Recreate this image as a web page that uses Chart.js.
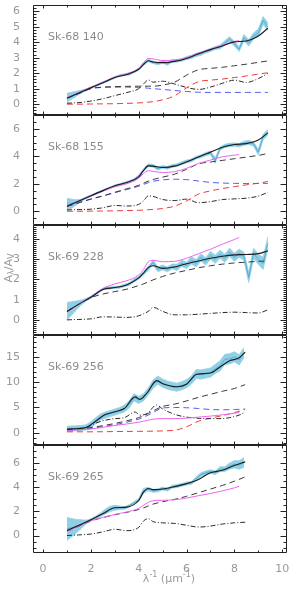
<!DOCTYPE html>
<html><head><meta charset="utf-8">
<script src="https://cdn.jsdelivr.net/npm/chart.js@4"></script>
<style>
html,body{margin:0;padding:0;background:#fff;}
body{width:295px;height:591px;position:relative;overflow:hidden;}
canvas{position:absolute;left:0;top:0;}
</style>
</head><body>
<canvas id="c0" width="295" height="591"></canvas>
<canvas id="c1" width="295" height="591"></canvas>
<canvas id="c2" width="295" height="591"></canvas>
<canvas id="c3" width="295" height="591"></canvas>
<canvas id="c4" width="295" height="591"></canvas>
<script>
// ---------- data ----------
const NAMES = ['Sk-68 140', 'Sk-68 155', 'Sk-69 228', 'Sk-69 256', 'Sk-69 265'];
const X_TICKS = [0, 2, 4, 6, 8, 10];
const P1_YT = [0, 1, 2, 3, 4, 5, 6];
const P2_YT = [0, 2, 4, 6];
const P3_YT = [0, 1, 2, 3, 4];
const P4_YT = [0, 5, 10, 15];
const P5_YT = [0, 2, 4, 6];

const G = [1.0,1.5,2.0,2.5,3.0,3.5,4.0,4.2,4.4,4.6,5.0,5.5,6.0,6.5,7.0,7.5,8.0,8.5,9.0,9.4];
const X_SHORT = [1.0,1.5,2.0,2.5,3.0,3.5,4.0,4.2,4.4,4.6,5.0,5.5,6.0,6.5,7.0,7.5,8.0,8.45];
const MAG_X = [1.0,1.5,2.0,2.5,3.0,3.5,4.0,4.2,4.4,4.6,5.0,5.5,6.0,6.5,7.0,7.5,8.0,8.2];
const OBS_X = [1.0,1.2,1.4,1.6,1.8,2.0,2.2,2.4,2.6,2.8,3.0,3.2,3.4,3.6,3.8,4.0,4.2,4.4,4.6,4.8,5.0,5.2,5.4,5.6,5.8,6.0,6.2,6.4,6.6,6.8,7.0,7.2,7.4,7.6,7.8,8.0,8.2,8.4,8.6,8.8,9.0,9.2,9.4];
const OBS_X_SHORT = [1.0,1.2,1.4,1.6,1.8,2.0,2.2,2.4,2.6,2.8,3.0,3.2,3.4,3.6,3.8,4.0,4.2,4.4,4.6,4.8,5.0,5.2,5.4,5.6,5.8,6.0,6.2,6.4,6.6,6.8,7.0,7.2,7.4,7.6,7.8,8.0,8.2,8.4];

// Sk-68 140
const P1_OBS = [0.42,0.55,0.68,0.8,0.93,1.06,1.18,1.32,1.45,1.58,1.72,1.85,1.9,1.92,2.08,2.25,2.6,2.82,2.7,2.62,2.72,2.6,2.78,2.8,2.85,2.98,3.05,3.18,3.25,3.4,3.5,3.62,3.7,3.95,4.2,3.9,3.55,4.3,3.95,4.4,4.6,5.4,5.0];
const P1_ERR = [0.28,0.22,0.16,0.1,0.06,0.05,0.05,0.05,0.05,0.05,0.05,0.05,0.05,0.05,0.06,0.07,0.08,0.08,0.08,0.08,0.08,0.08,0.08,0.08,0.08,0.1,0.1,0.1,0.1,0.1,0.1,0.1,0.12,0.15,0.15,0.15,0.15,0.2,0.2,0.2,0.25,0.25,0.25];
const P1_FIT = [0.38,0.72,1.06,1.38,1.72,1.92,2.25,2.55,2.8,2.72,2.68,2.76,2.95,3.25,3.52,3.75,4.02,4.08,4.4,4.9];
const P1_MAG = [0.4,0.76,1.1,1.42,1.76,1.98,2.3,2.68,2.95,2.92,2.82,2.85,3.0,3.3,3.55,3.8,4.05,4.1];
const P1_TOT = [0.39,0.7,1.01,1.1,1.13,1.15,1.16,1.16,1.16,1.16,1.23,1.42,1.87,2.22,2.31,2.38,2.48,2.58,2.7,2.79];
const P1_BLUE = [0.39,0.7,1.0,1.08,1.1,1.1,1.08,1.06,1.03,1.0,0.95,0.88,0.82,0.77,0.76,0.76,0.76,0.76,0.76,0.76];
const P1_RED = [0.0,0.0,0.01,0.02,0.03,0.05,0.08,0.1,0.13,0.16,0.28,0.54,1.05,1.45,1.55,1.62,1.72,1.82,1.94,2.03];
const P1_DD = [0.06,0.1,0.2,0.35,0.55,0.75,1.0,1.3,1.56,1.42,1.48,1.3,1.08,0.95,1.1,1.35,1.55,1.4,1.65,1.98];

// Sk-68 155
const P2_OBS = [0.5,0.55,0.65,0.8,0.98,1.13,1.28,1.43,1.58,1.72,1.85,1.95,2.05,2.15,2.3,2.55,3.0,3.35,3.3,3.1,3.22,3.15,3.3,3.35,3.5,3.62,3.7,3.9,4.0,4.15,4.25,3.7,4.55,4.75,4.82,4.85,4.8,4.95,5.0,4.9,4.3,5.4,5.75];
const P2_ERR = [0.45,0.32,0.18,0.08,0.06,0.05,0.05,0.05,0.05,0.05,0.06,0.06,0.06,0.06,0.07,0.08,0.1,0.1,0.1,0.1,0.1,0.1,0.1,0.1,0.1,0.1,0.1,0.1,0.1,0.12,0.12,0.2,0.12,0.12,0.12,0.12,0.12,0.15,0.15,0.15,0.2,0.2,0.2];
const P2_FIT = [0.36,0.75,1.13,1.5,1.85,2.09,2.5,2.95,3.3,3.28,3.18,3.28,3.58,3.95,4.3,4.65,4.85,4.92,5.18,5.7];
const P2_MAG = [0.36,0.74,1.1,1.45,1.78,2.0,2.4,2.75,2.95,2.9,2.82,2.88,3.12,3.48,3.72,3.96,4.08,4.12];
const P2_TOT = [0.36,0.62,0.89,1.12,1.38,1.63,1.89,2.04,2.19,2.31,2.48,2.7,3.05,3.45,3.58,3.7,3.82,3.94,4.06,4.2];
const P2_BLUE = [0.36,0.62,0.88,1.1,1.35,1.58,1.82,1.95,2.08,2.18,2.28,2.33,2.3,2.2,2.1,2.05,2.03,2.02,2.02,2.03];
const P2_RED = [0,0,0.01,0.02,0.03,0.05,0.07,0.09,0.11,0.13,0.2,0.37,0.75,1.25,1.48,1.65,1.79,1.92,2.04,2.17];
const P2_DD = [0.1,0.12,0.15,0.25,0.42,0.38,0.5,0.75,1.12,1.08,0.85,0.78,0.88,0.62,0.7,0.85,0.9,0.95,1.1,1.38];

// Sk-69 228
const P3_OBS = [0.43,0.57,0.72,0.86,1.0,1.12,1.28,1.45,1.58,1.58,1.6,1.62,1.7,1.78,1.95,2.08,2.3,2.55,2.85,2.5,2.6,2.5,2.65,2.6,2.8,2.7,2.95,2.8,3.1,2.9,3.2,3.0,3.25,3.05,3.35,3.1,3.3,3.15,2.1,3.3,3.0,2.8,3.8];
const P3_ERR = [0.43,0.33,0.22,0.12,0.06,0.05,0.05,0.05,0.05,0.05,0.05,0.05,0.06,0.06,0.07,0.07,0.08,0.1,0.12,0.12,0.12,0.12,0.12,0.15,0.15,0.15,0.18,0.18,0.18,0.18,0.2,0.2,0.2,0.2,0.2,0.2,0.2,0.2,0.25,0.25,0.25,0.3,0.3];
const P3_FIT = [0.41,0.78,1.12,1.5,1.6,1.73,2.08,2.32,2.6,2.68,2.55,2.62,2.78,2.92,3.05,3.15,3.22,3.24,3.28,3.42];
const P3_MAG = [0.41,0.78,1.15,1.55,1.78,1.94,2.22,2.5,2.88,2.95,2.88,2.9,3.05,3.28,3.5,3.75,3.98,4.08];
const P3_TOT = [0.41,0.78,1.1,1.28,1.4,1.52,1.7,1.78,1.88,1.98,2.15,2.32,2.45,2.58,2.68,2.76,2.82,2.86,2.9,2.92];
const P3_DD = [0.0,0.02,0.05,0.15,0.14,0.12,0.2,0.3,0.42,0.62,0.42,0.25,0.25,0.28,0.32,0.36,0.38,0.36,0.34,0.5];

// Sk-69 256
const P4_OBS = [0.8,0.85,0.9,0.95,1.1,1.6,2.4,3.1,3.5,3.8,4.1,4.4,4.8,5.6,7.0,6.5,7.0,8.2,9.6,10.4,9.8,9.4,9.2,9.0,9.3,9.7,10.4,11.6,11.5,11.7,11.9,12.6,13.2,14.5,14.6,15.0,14.4,15.8];
const P4_ERR = [0.5,0.5,0.5,0.5,0.5,0.6,0.6,0.6,0.6,0.6,0.6,0.6,0.7,0.7,0.7,0.7,0.7,0.7,0.8,0.8,0.8,0.8,0.8,0.8,0.8,0.8,0.8,0.9,0.9,0.9,0.9,0.9,1.0,1.0,1.0,1.0,1.0,1.0];
const P4_FIT_X = [1.0,1.5,1.8,2.2,2.6,3.0,3.4,3.85,4.05,4.35,4.75,5.0,5.6,6.0,6.4,7.0,7.4,7.8,8.2,8.45];
const P4_FIT = [0.72,0.85,1.05,2.3,3.6,4.15,4.8,7.1,6.6,7.9,10.3,9.7,9.1,9.6,11.5,11.8,13.0,14.2,14.8,15.9];
const P4_DD = [0.66,0.8,1.05,1.9,2.5,2.8,3.0,4.1,3.5,3.8,5.5,4.7,3.5,3.1,2.9,2.8,2.8,3.0,3.5,4.1];
const P4_MAG = [0.5,0.6,0.75,1.1,1.45,1.75,2.1,2.3,2.5,2.7,2.8,2.8,2.9,3.1,3.3,3.55,3.85,4.0];
const P4_TOT = [0.7,0.82,1.05,1.42,1.85,2.37,3.0,3.4,3.82,4.33,5.2,5.66,6.3,7.0,7.6,8.2,8.75,9.5];
const P4_BLUE = [0.5,0.62,0.85,1.2,1.6,2.1,2.7,3.1,3.5,4.0,4.9,5.0,4.95,4.8,4.6,4.55,4.6,4.7];
const P4_RED = [0.2,0.2,0.2,0.22,0.25,0.27,0.3,0.3,0.32,0.33,0.38,0.5,1.2,2.3,2.9,3.4,4.0,4.6];

// Sk-69 265
const P5_OBS = [0.55,0.65,0.78,0.95,1.12,1.3,1.5,1.72,1.98,2.2,2.3,2.3,2.28,2.45,2.7,2.95,3.7,3.85,3.7,3.75,3.9,3.8,4.05,4.1,4.2,4.3,4.35,4.7,5.05,5.2,5.3,5.2,5.5,5.5,5.75,5.9,5.85,6.05];
const P5_ERR = [0.95,0.75,0.55,0.35,0.15,0.08,0.1,0.15,0.2,0.22,0.2,0.15,0.1,0.1,0.1,0.12,0.2,0.15,0.12,0.12,0.12,0.12,0.12,0.12,0.12,0.12,0.12,0.15,0.15,0.15,0.15,0.15,0.2,0.2,0.25,0.3,0.35,0.4];
const P5_FIT = [0.41,0.85,1.3,1.8,2.3,2.35,2.9,3.6,3.9,3.8,3.85,4.05,4.3,4.65,5.2,5.4,5.8,6.1];
const P5_MAG = [0.33,0.8,1.22,1.5,1.75,1.95,2.25,2.5,2.75,2.88,2.92,2.96,3.1,3.3,3.48,3.7,3.95,4.08];
const P5_TOT = [0.35,0.78,1.2,1.48,1.72,1.92,2.15,2.28,2.45,2.6,2.8,3.0,3.25,3.55,3.85,4.15,4.5,4.85];
const P5_DD = [0.0,0.05,0.12,0.3,0.52,0.4,0.68,1.2,1.4,1.15,1.05,1.0,0.85,0.7,0.78,0.95,1.05,1.1];

// ---------- styling / build ----------
const C = {
  band: '#8fd0e6', obs: '#4da3c8', fit: '#1c1c1c', mag: '#f062f0',
  tot: '#3a3a3a', blue: '#4f5ff0', red: '#f03a3a', dd: '#2a2a2a',
  frame: '#222', text: '#999'
};
const FONT = '"DejaVu Sans", "Liberation Sans", sans-serif';
const pts = (xs, ys) => ys.map((y, i) => ({x: xs[i], y}));

const PANELS = [
  {name: NAMES[0], top: 5, bottom: 115, ymin: -0.7, ymax: 6.4, yt: P1_YT, minor: 0.2,
   ox: OBS_X, obs: P1_OBS, err: P1_ERR, fit: [G, P1_FIT], mag: P1_MAG, tot: [G, P1_TOT],
   blue: [G, P1_BLUE], red: [G, P1_RED], dd: [G, P1_DD]},
  {name: NAMES[1], top: 115, bottom: 225, ymin: -1, ymax: 7, yt: P2_YT, minor: 0.5,
   ox: OBS_X, obs: P2_OBS, err: P2_ERR, fit: [G, P2_FIT], mag: P2_MAG, tot: [G, P2_TOT],
   blue: [G, P2_BLUE], red: [G, P2_RED], dd: [G, P2_DD]},
  {name: NAMES[2], top: 225, bottom: 335, ymin: -0.75, ymax: 4.7, yt: P3_YT, minor: 0.1,
   ox: OBS_X, obs: P3_OBS, err: P3_ERR, fit: [G, P3_FIT], mag: P3_MAG, tot: [G, P3_TOT],
   blue: null, red: null, dd: [G, P3_DD]},
  {name: NAMES[3], top: 335, bottom: 445, ymin: -2.4, ymax: 19.3, yt: P4_YT, minor: 1,
   ox: OBS_X_SHORT, obs: P4_OBS, err: P4_ERR, fit: [P4_FIT_X, P4_FIT], mag: P4_MAG, tot: [X_SHORT, P4_TOT],
   blue: [X_SHORT, P4_BLUE], red: [X_SHORT, P4_RED], dd: [P4_FIT_X, P4_DD]},
  {name: NAMES[4], top: 445, bottom: 553, ymin: -1.45, ymax: 7.5, yt: P5_YT, minor: 0.5,
   ox: OBS_X_SHORT, obs: P5_OBS, err: P5_ERR, fit: [X_SHORT, P5_FIT], mag: P5_MAG, tot: [X_SHORT, P5_TOT],
   blue: null, red: null, dd: [X_SHORT, P5_DD]}
];

function richText(ctx, segs, cx, cy) {
  let w = 0;
  segs.forEach(s => { ctx.font = (s[1] ? 8 : 11) + 'px ' + FONT; s.w = ctx.measureText(s[0]).width; w += s.w; });
  let x = cx - w / 2;
  ctx.textAlign = 'left'; ctx.textBaseline = 'middle';
  segs.forEach(s => {
    ctx.font = (s[1] ? 8 : 11) + 'px ' + FONT;
    const dy = s[1] === 1 ? -4 : (s[1] === -1 ? 3 : 0);
    ctx.fillText(s[0], x, cy + dy); x += s.w;
  });
}

const framePlugin = {
  id: 'frame',
  afterDraw(chart, args, o) {
    const ctx = chart.ctx, a = chart.chartArea, xs = chart.scales.x, ys = chart.scales.y;
    const L = Math.round(a.left) + 0.5, R = Math.round(a.right) - 0.5;
    const T = Math.round(a.top) + 0.5, B = Math.round(a.bottom) - 0.5;
    ctx.save();
    ctx.strokeStyle = C.frame; ctx.lineWidth = 1;
    ctx.beginPath();
    ctx.rect(L, T, R - L, B - T);
    const isMaj = (list, v) => list.some(t => Math.abs(t - v) < 1e-6);
    for (let k = Math.ceil(ys.min / o.minor - 1e-6); k * o.minor <= ys.max + 1e-9; k++) {
      const v = k * o.minor, len = isMaj(o.yt, v) ? 6 : 3;
      const py = Math.round(ys.getPixelForValue(v)) + 0.5;
      ctx.moveTo(L, py); ctx.lineTo(L + len, py);
      ctx.moveTo(R, py); ctx.lineTo(R - len, py);
    }
    for (let k = Math.ceil(xs.min); k <= xs.max; k++) {
      const len = isMaj(X_TICKS, k) ? 3 : 2;
      const px = Math.round(xs.getPixelForValue(k)) + 0.5;
      ctx.moveTo(px, B); ctx.lineTo(px, B - len);
      ctx.moveTo(px, T); ctx.lineTo(px, T + len);
    }
    ctx.stroke();
    ctx.fillStyle = '#8c8c8c';
    ctx.font = '11px ' + FONT; ctx.textAlign = 'left'; ctx.textBaseline = 'middle';
    ctx.fillText(o.name, 48, a.top + 32);
    if (o.last) {
      ctx.fillStyle = C.text;
      richText(ctx, [['λ', 0], ['-1', 1], [' (μm', 0], ['-1', 1], [')', 0]], 169, 579);
      ctx.save();
      ctx.translate(9, 268); ctx.rotate(-Math.PI / 2);
      richText(ctx, [['A', 0], ['λ', -1], ['/A', 0], ['V', -1]], 0, 0);
      ctx.restore();
    }
    ctx.restore();
  }
};

function line(data, color, width, dash, order, tension) {
  return {data, borderColor: color, borderWidth: width, borderDash: dash || [], pointRadius: 0,
          fill: false, order, tension: tension === undefined ? 0.35 : tension,
          cubicInterpolationMode: 'monotone'};
}

PANELS.forEach((p, i) => {
  const last = i === PANELS.length - 1;
  const lo = p.obs.map((v, j) => v - p.err[j]);
  const hi = p.obs.map((v, j) => v + p.err[j]);
  const ds = [
    {data: pts(p.ox, lo), borderColor: C.band, borderWidth: 0.8, pointRadius: 0, fill: false, order: 20, tension: 0},
    {data: pts(p.ox, hi), borderColor: C.band, borderWidth: 0.8, pointRadius: 0, fill: '-1', backgroundColor: C.band, order: 19, tension: 0},
    {data: pts(p.ox, p.obs), borderColor: C.obs, borderWidth: 0.8, pointRadius: 0, fill: false, order: 18, tension: 0}
  ];
  if (p.red) ds.push(line(pts(p.red[0], p.red[1]), C.red, 1, [6, 4], 10));
  if (p.blue) ds.push(line(pts(p.blue[0], p.blue[1]), C.blue, 1, [6, 4], 9));
  ds.push(line(pts(p.tot[0], p.tot[1]), C.tot, 1, [6, 4], 8));
  ds.push(line(pts(p.dd[0], p.dd[1]), C.dd, 1, [5, 2, 1, 2], 7));
  ds.push(line(pts(MAG_X, p.mag), C.mag, 1, [], 3));
  ds.push(line(pts(p.fit[0], p.fit[1]), C.fit, 1.1, [], 1));

  new Chart(document.getElementById('c' + i), {
    type: 'line',
    data: {datasets: ds},
    options: {
      responsive: false, animation: false, devicePixelRatio: 1, events: [],
      layout: {padding: {left: 0, right: 8, top: p.top, bottom: last ? 591 - p.bottom - 22 : 591 - p.bottom}},
      plugins: {legend: {display: false}, tooltip: {enabled: false},
                frame: {name: p.name, yt: p.yt, minor: p.minor, last}},
      scales: {
        x: {type: 'linear', min: -0.42, max: 10.2, display: last,
            grid: {display: false}, border: {display: false},
            ticks: {color: C.text, font: {family: FONT, size: 11}, padding: 2, maxRotation: 0},
            afterBuildTicks: s => { s.ticks = X_TICKS.map(v => ({value: v})); },
            afterFit: s => { s.height = last ? 22 : 0; s.paddingLeft = 0; s.paddingRight = 0; }},
        y: {type: 'linear', min: p.ymin, max: p.ymax,
            grid: {display: false}, border: {display: false},
            ticks: {color: C.text, font: {family: FONT, size: 11}, padding: 5},
            afterBuildTicks: s => { s.ticks = p.yt.map(v => ({value: v})); },
            afterFit: s => { s.width = 33; s.paddingTop = 0; s.paddingBottom = 0; }}
      }
    },
    plugins: [framePlugin]
  });
});
</script>
</body></html>
